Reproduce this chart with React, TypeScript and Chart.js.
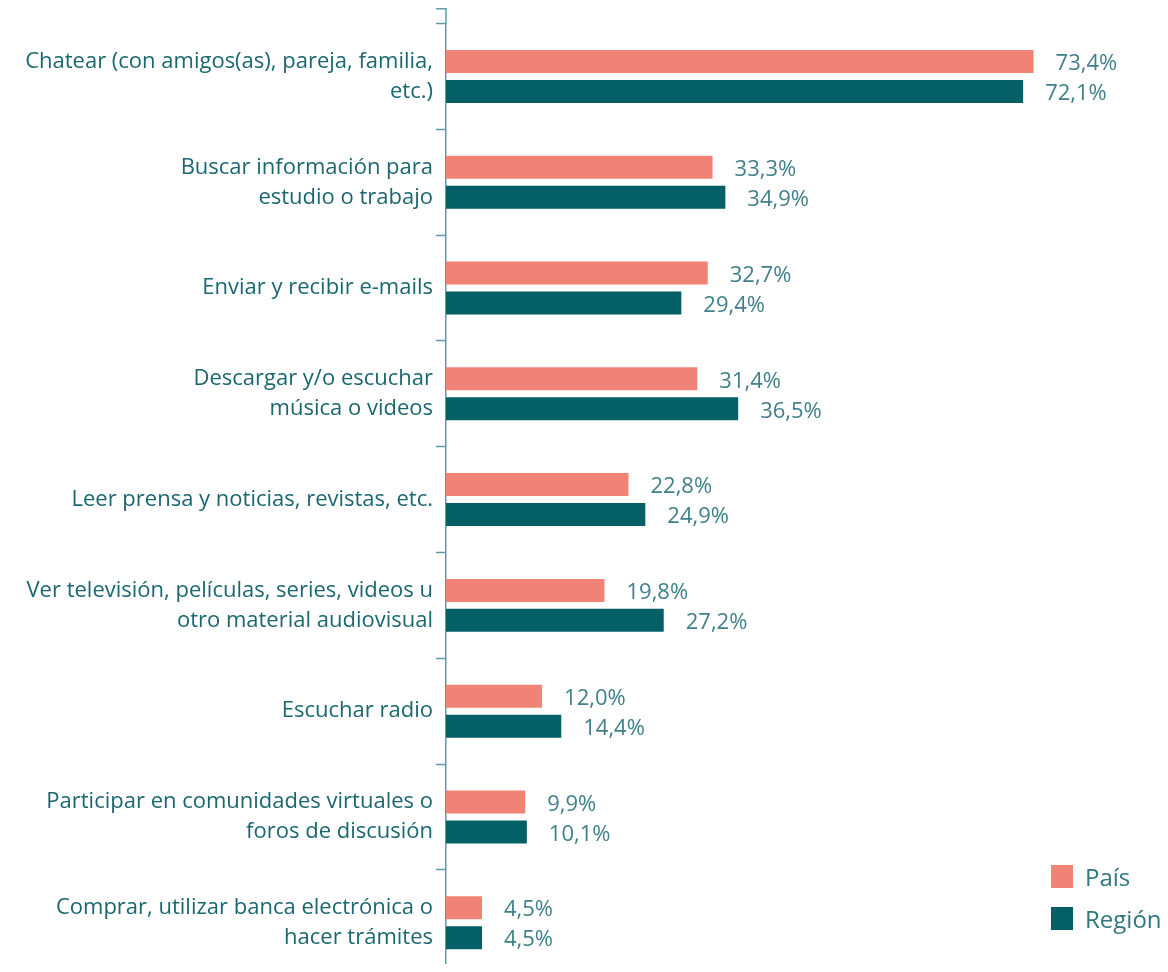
import React, { useEffect, useRef } from "react";
import { Chart, registerables } from "chart.js";

Chart.register(...registerables);

const categories: (string | string[])[] = [
  ["Chatear (con amigos(as), pareja, familia,", "etc.)"],
  ["Buscar información para", "estudio o trabajo"],
  "Enviar y recibir e-mails",
  ["Descargar y/o escuchar", "música o videos"],
  "Leer prensa y noticias, revistas, etc.",
  ["Ver televisión, películas, series, videos u", "otro material audiovisual"],
  "Escuchar radio",
  ["Participar en comunidades virtuales o", "foros de discusión"],
  ["Comprar, utilizar banca electrónica o", "hacer trámites"],
];

const paisValues = [73.4, 33.3, 32.7, 31.4, 22.8, 19.8, 12.0, 9.9, 4.5];
const regionValues = [72.1, 34.9, 29.4, 36.5, 24.9, 27.2, 14.4, 10.1, 4.5];

const seriesNames = ["País", "Región"];
const seriesColors = ["#F08375", "#055F66"];

const FONT = "'Open Sans', 'Noto Sans', sans-serif";
const AXIS_COLOR = "#5E9CA4";
const LABEL_COLOR = "#1B6770";
const VALUE_COLOR = "#41808A";

const valueLabelPlugin = {
  id: "valueLabels",
  afterDatasetsDraw(chart: any) {
    const ctx = chart.ctx;
    ctx.save();
    ctx.font = `22px ${FONT}`;
    ctx.fillStyle = VALUE_COLOR;
    ctx.textAlign = "left";
    ctx.textBaseline = "middle";
    chart.data.datasets.forEach((ds: any, di: number) => {
      const meta = chart.getDatasetMeta(di);
      meta.data.forEach((bar: any, i: number) => {
        const v = ds.data[i] as number;
        const txt = v.toFixed(1).replace(".", ",") + "%";
        ctx.fillText(txt, bar.x + 22, bar.y + 2.5);
      });
    });
    ctx.restore();
  },
};

const axisExtendPlugin = {
  id: "axisExtend",
  afterDraw(chart: any) {
    const ctx = chart.ctx;
    const x = chart.chartArea.left;
    const top = chart.chartArea.top;
    ctx.save();
    ctx.strokeStyle = AXIS_COLOR;
    ctx.lineWidth = 1.5;
    ctx.beginPath();
    ctx.moveTo(x, 0);
    ctx.lineTo(x, top);
    ctx.moveTo(x - 10, 0.75);
    ctx.lineTo(x, 0.75);
    ctx.stroke();
    ctx.restore();
  },
};

export default function App() {
  const canvasRef = useRef<HTMLCanvasElement | null>(null);

  useEffect(() => {
    if (!canvasRef.current) return;
    const chart = new Chart(canvasRef.current, {
      type: "bar",
      data: {
        labels: categories,
        datasets: [
          {
            label: seriesNames[0],
            data: paisValues,
            backgroundColor: seriesColors[0],
            borderWidth: 0,
            categoryPercentage: 0.567,
            barPercentage: 0.767,
          },
          {
            label: seriesNames[1],
            data: regionValues,
            backgroundColor: seriesColors[1],
            borderWidth: 0,
            categoryPercentage: 0.567,
            barPercentage: 0.767,
          },
        ],
      },
      options: {
        indexAxis: "y",
        responsive: false,
        animation: false,
        layout: { padding: { top: 15.6, bottom: 2.4, right: 44, left: 0 } },
        plugins: {
          legend: { display: false },
          tooltip: { enabled: false },
        },
        scales: {
          x: {
            display: false,
            min: 0,
            max: 84.7,
          },
          y: {
            afterFit(scale: any) {
              scale.width = 438;
              scale.paddingTop = 0;
              scale.paddingBottom = 0;
            },
            grid: {
              display: true,
              drawOnChartArea: false,
              drawTicks: true,
              tickLength: 10,
              tickWidth: 1.5,
              color: AXIS_COLOR,
              offset: true,
            },
            border: { display: true, color: AXIS_COLOR, width: 1.5 },
            ticks: {
              color: LABEL_COLOR,
              padding: 3,
              font: { family: FONT, size: 22, lineHeight: 30 / 22 },
            },
          },
        },
      },
      plugins: [valueLabelPlugin, axisExtendPlugin],
    });
    return () => chart.destroy();
  }, []);

  const legendItem = (i: number, top: number) => (
    <div
      key={i}
      style={{
        position: "absolute",
        left: 1043,
        top,
        display: "flex",
        alignItems: "center",
        fontFamily: FONT,
        fontSize: 24,
        color: "#2F7880",
      }}
    >
      <span
        style={{
          display: "inline-block",
          width: 22,
          height: 23,
          background: seriesColors[i],
          marginRight: 12,
        }}
      />
      <span style={{ lineHeight: "23px" }}>{seriesNames[i]}</span>
    </div>
  );

  return (
    <div
      style={{
        position: "relative",
        width: 1160,
        height: 964,
        overflow: "hidden",
        marginBottom: -8,
      }}
    >
      <canvas
        ref={canvasRef}
        width={1160}
        height={970}
        style={{ display: "block" }}
      />
      {legendItem(0, 857)}
      {legendItem(1, 899)}
    </div>
  );
}
